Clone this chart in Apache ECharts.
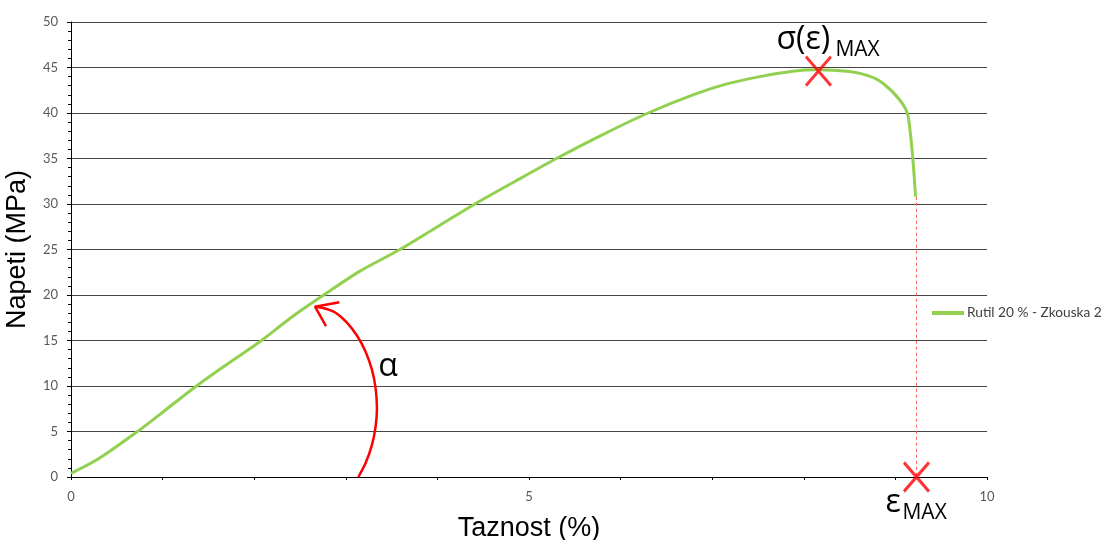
<!DOCTYPE html>
<html>
<head>
<meta charset="utf-8">
<title>Napeti vs. Taznost</title>
<script src="https://cdn.jsdelivr.net/npm/echarts@6/dist/echarts.min.js"></script>
<style>
  html, body { margin: 0; padding: 0; background: #ffffff; }
  #chart { width: 1104px; height: 540px; }
</style>
</head>
<body>
<div id="chart"></div>
<script>
// Tensile test curve: strain (%) and stress (MPa)
const seriesName = 'Rutil 20 % - Zkouska 2';
const strain = [0, 0.3, 0.74, 1.05, 1.37, 1.72, 2.08, 2.4, 2.76, 3.15, 3.59, 4.0, 4.41, 4.85, 5.30, 5.8, 6.30, 6.79, 7.16, 7.52, 7.88, 8.15, 8.5, 8.7, 8.86, 9.05, 9.14, 9.22];
const stress = [0.4, 2.0, 5.1, 7.5, 10.0, 12.5, 15.0, 17.5, 20.0, 22.6, 25.0, 27.5, 30.0, 32.5, 35.0, 37.6, 40.0, 42.0, 43.2, 44.0, 44.6, 44.75, 44.55, 44.1, 43.3, 41.4, 39.6, 30.8];

// Axis ranges and tick steps
const xRange = [0, 10];
const yRange = [0, 50];
const xLabelValues = [0, 5, 10];

// Annotation anchors (data coordinates)
const peakPoint = [8.16, 44.6];      // sigma(eps)_MAX
const breakPoint = [9.23, 0];        // eps_MAX
const breakLine = [[9.23, 30.8], [9.23, 0]];
// Angle arc alpha, from the x axis up to the linear part of the curve
const arcX = [3.137, 3.215, 3.285, 3.325, 3.340, 3.325, 3.285, 3.215, 3.125, 3.010, 2.880, 2.760, 2.664];
const arcY = [0.0, 1.5, 3.5, 5.5, 7.5, 9.8, 11.8, 13.8, 15.5, 17.0, 18.1, 18.55, 18.71];
const arrowHeadX = [2.929, 2.664, 2.784];
const arrowHeadY = [19.20, 18.71, 16.59];
const alphaAnchor = [3.46, 12.1];

const zip = (a, b) => a.map((v, i) => [v, b[i]]);

const chart = echarts.init(document.getElementById('chart'), null, { renderer: 'canvas' });

const tickFont = { fontFamily: 'Lato', fontSize: 13, color: '#595959' };
const crossMark = 'path://M0 0 L26 29 M26 0 L0 29';

const baseX = {
  type: 'value', min: xRange[0], max: xRange[1], interval: 1,
  splitLine: { show: false }
};
const baseY = {
  type: 'value', min: yRange[0], max: yRange[1], interval: 5
};

chart.setOption({
  animation: false,
  backgroundColor: '#ffffff',
  grid: { left: 71, right: 117, top: 22, bottom: 63, containLabel: false, outerBoundsMode: 'none' },
  legend: {
    data: [seriesName],
    left: 932, top: 306, padding: 0,
    icon: 'rect', itemWidth: 32, itemHeight: 4, itemGap: 4,
    textStyle: { fontFamily: 'Lato', fontSize: 13.7, color: '#404040', padding: [0, 0, 0, -2] }
  },
  xAxis: [
    Object.assign({}, baseX, {
      name: 'Taznost (%)', nameLocation: 'middle', nameGap: 38,
      nameTextStyle: { fontFamily: 'Liberation Sans', fontSize: 27, color: '#000000' },
      axisLine: { show: true, onZero: false, lineStyle: { color: '#000000', width: 1 } },
      axisTick: { show: true, length: 3, lineStyle: { color: '#000000' } },
      axisLabel: Object.assign({}, tickFont, {
        margin: 13,
        formatter: v => (xLabelValues.indexOf(v) >= 0 ? String(v) : '')
      })
    }),
    Object.assign({}, baseX, {
      axisLine: { show: false },
      axisTick: { show: true, inside: true, length: 3, lineStyle: { color: '#000000' } },
      axisLabel: { show: false }
    })
  ],
  yAxis: [
    Object.assign({}, baseY, {
      name: 'Napeti (MPa)', nameLocation: 'middle', nameGap: 40, nameRotate: 90,
      nameTextStyle: { fontFamily: 'Liberation Sans', fontSize: 27, color: '#000000' },
      axisLine: { show: true, onZero: false, lineStyle: { color: '#000000', width: 1 } },
      axisTick: { show: true, length: 4, lineStyle: { color: '#000000' } },
      minorTick: { show: true, splitNumber: 5, length: 3, lineStyle: { color: '#000000' } },
      axisLabel: Object.assign({}, tickFont, { margin: 13 }),
      splitLine: { show: true, lineStyle: { color: '#454545', width: 1 } }
    }),
    Object.assign({}, baseY, {
      axisLine: { show: false },
      axisTick: { show: true, inside: true, length: 3, lineStyle: { color: '#000000' } },
      minorTick: { show: true, splitNumber: 5, length: 3, lineStyle: { color: '#000000' } },
      axisLabel: { show: false },
      splitLine: { show: false }
    })
  ],
  series: [
    {
      name: seriesName, type: 'line', data: zip(strain, stress),
      showSymbol: false, smooth: 0.3,
      lineStyle: { color: '#92d050', width: 3 },
      itemStyle: { color: '#92d050' },
      z: 3
    },
    {
      name: 'break', type: 'line', data: breakLine, showSymbol: false,
      lineStyle: { color: '#ff5a5a', width: 1, type: [3, 3] }, z: 2
    },
    {
      name: 'arc', type: 'line', data: zip(arcX, arcY), showSymbol: false, smooth: 0.3,
      lineStyle: { color: '#ff0000', width: 2.5 }, z: 4
    },
    {
      name: 'arrow', type: 'line', data: zip(arrowHeadX, arrowHeadY), showSymbol: false,
      lineStyle: { color: '#ff0000', width: 2.5 }, z: 4
    },
    {
      name: 'marks', type: 'scatter', data: [peakPoint, breakPoint],
      symbol: crossMark, symbolSize: [25, 29],
      itemStyle: { color: 'rgba(0,0,0,0)', borderColor: '#ff0000', borderWidth: 3 },
      z: 5
    }
  ]
});

// Text annotations, placed relative to their data anchors
const px = p => chart.convertToPixel({ xAxisIndex: 0, yAxisIndex: 0 }, p);
const peakPx = px(peakPoint);
const breakPx = px(breakPoint);
const alphaPx = px(alphaAnchor);
const bigFont = 'Open Sans';

chart.setOption({
  graphic: [
    { type: 'text', x: peakPx[0] - 42, y: peakPx[1] - 31,
      style: { text: 'σ(ε)', font: '32px "' + bigFont + '"', fill: '#000000', verticalAlign: 'middle', align: 'left' } },
    { type: 'text', x: peakPx[0] + 17, y: peakPx[1] - 21,
      style: { text: 'MAX', font: '21px "' + bigFont + '"', fill: '#000000', verticalAlign: 'middle', align: 'left' } },
    { type: 'text', x: breakPx[0] - 31, y: breakPx[1] + 26,
      style: { text: 'ε', font: '32px "' + bigFont + '"', fill: '#000000', verticalAlign: 'middle', align: 'left' } },
    { type: 'text', x: breakPx[0] - 14, y: breakPx[1] + 36,
      style: { text: 'MAX', font: '21px "' + bigFont + '"', fill: '#000000', verticalAlign: 'middle', align: 'left' } },
    { type: 'text', x: alphaPx[0], y: alphaPx[1],
      style: { text: 'α', font: '32px "' + bigFont + '"', fill: '#000000', verticalAlign: 'middle', align: 'center' } }
  ]
});
</script>
</body>
</html>
